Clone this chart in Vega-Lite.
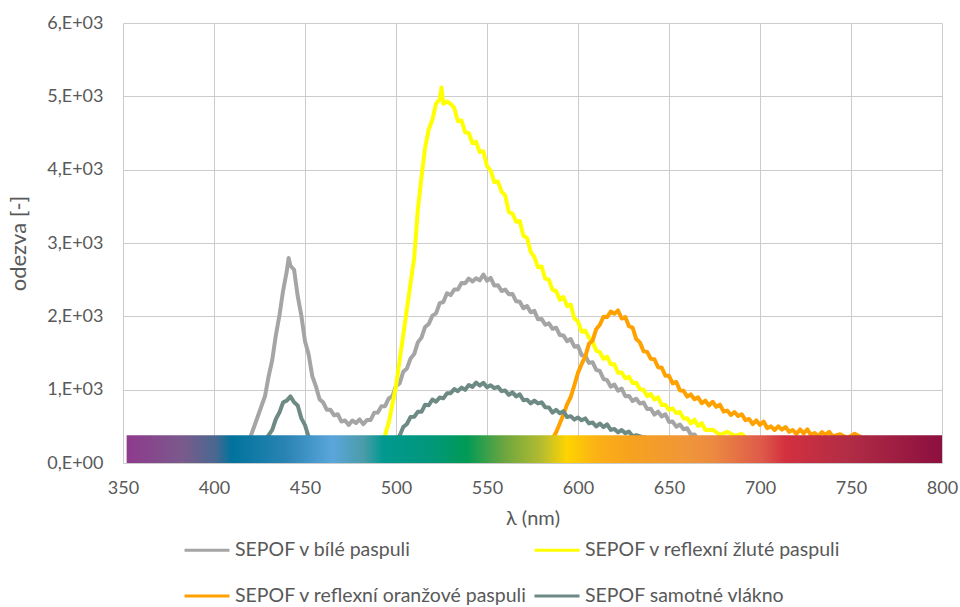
{
  "$schema": "https://vega.github.io/schema/vega-lite/v6.json",
  "width": 819,
  "height": 440,
  "autosize": {"type": "none"},
  "padding": {"left": 123, "top": 23, "right": 18, "bottom": 144},
  "background": "white",
  "config": {
    "view": {"stroke": null},
    "axis": {
      "domain": false, "ticks": false, "grid": true, "gridColor": "#cccccc", "gridWidth": 1,
      "labelFont": "Lato", "labelFontSize": 18, "labelColor": "#595959", "labelFlush": false,
      "titleFont": "Lato", "titleFontSize": 20, "titleFontWeight": "normal", "titleColor": "#595959"
    }
  },
  "datasets": {
    "bila": [
      {"nm":416,"v":185},{"nm":420,"v":355},{"nm":424,"v":630},{"nm":428,"v":910},{"nm":430,"v":1180},{"nm":432,"v":1405},{"nm":434,"v":1745},{"nm":436,"v":2020},{"nm":438,"v":2355},{"nm":440,"v":2615},{"nm":441,"v":2795},{"nm":442,"v":2690},{"nm":444,"v":2635},{"nm":446,"v":2275},{"nm":448,"v":2010},{"nm":450,"v":1660},{"nm":452,"v":1480},{"nm":454,"v":1185},{"nm":456,"v":1045},{"nm":458,"v":870},{"nm":460,"v":825},{"nm":462,"v":725},{"nm":464,"v":725},{"nm":466,"v":650},{"nm":468,"v":665},{"nm":470,"v":565},{"nm":472,"v":580},{"nm":474,"v":520},{"nm":476,"v":580},{"nm":478,"v":545},{"nm":480,"v":595},{"nm":482,"v":530},{"nm":484,"v":585},{"nm":486,"v":585},{"nm":488,"v":685},{"nm":490,"v":690},{"nm":492,"v":775},{"nm":494,"v":775},{"nm":496,"v":880},{"nm":498,"v":910},{"nm":500,"v":1050},{"nm":502,"v":1085},{"nm":504,"v":1245},{"nm":506,"v":1290},{"nm":508,"v":1425},{"nm":510,"v":1485},{"nm":512,"v":1645},{"nm":514,"v":1710},{"nm":516,"v":1855},{"nm":518,"v":1895},{"nm":520,"v":2010},{"nm":522,"v":2040},{"nm":524,"v":2180},{"nm":526,"v":2195},{"nm":528,"v":2315},{"nm":530,"v":2290},{"nm":532,"v":2365},{"nm":534,"v":2365},{"nm":536,"v":2455},{"nm":538,"v":2450},{"nm":540,"v":2515},{"nm":542,"v":2475},{"nm":544,"v":2520},{"nm":546,"v":2490},{"nm":548,"v":2570},{"nm":550,"v":2485},{"nm":552,"v":2525},{"nm":554,"v":2420},{"nm":556,"v":2425},{"nm":558,"v":2345},{"nm":560,"v":2365},{"nm":562,"v":2300},{"nm":564,"v":2305},{"nm":566,"v":2205},{"nm":568,"v":2200},{"nm":570,"v":2110},{"nm":572,"v":2140},{"nm":574,"v":2055},{"nm":576,"v":2075},{"nm":578,"v":1960},{"nm":580,"v":1965},{"nm":582,"v":1885},{"nm":584,"v":1905},{"nm":586,"v":1830},{"nm":588,"v":1845},{"nm":590,"v":1745},{"nm":592,"v":1740},{"nm":594,"v":1660},{"nm":596,"v":1690},{"nm":598,"v":1585},{"nm":600,"v":1595},{"nm":602,"v":1470},{"nm":604,"v":1465},{"nm":606,"v":1365},{"nm":608,"v":1375},{"nm":610,"v":1270},{"nm":612,"v":1255},{"nm":614,"v":1145},{"nm":616,"v":1130},{"nm":618,"v":1040},{"nm":620,"v":1070},{"nm":622,"v":985},{"nm":624,"v":1015},{"nm":626,"v":910},{"nm":628,"v":915},{"nm":630,"v":845},{"nm":632,"v":875},{"nm":634,"v":810},{"nm":636,"v":825},{"nm":638,"v":735},{"nm":640,"v":740},{"nm":642,"v":660},{"nm":644,"v":700},{"nm":646,"v":635},{"nm":648,"v":665},{"nm":650,"v":560},{"nm":652,"v":565},{"nm":654,"v":495},{"nm":656,"v":525},{"nm":658,"v":460},{"nm":660,"v":475},{"nm":662,"v":385},{"nm":664,"v":390},{"nm":666,"v":310},{"nm":670,"v":330}
    ],
    "zluta": [
      {"nm":488,"v":100},{"nm":492,"v":250},{"nm":494,"v":380},{"nm":496,"v":550},{"nm":498,"v":800},{"nm":500,"v":1050},{"nm":502,"v":1400},{"nm":504,"v":1750},{"nm":506,"v":2100},{"nm":508,"v":2450},{"nm":510,"v":2800},{"nm":512,"v":3450},{"nm":514,"v":3900},{"nm":516,"v":4300},{"nm":518,"v":4550},{"nm":520,"v":4680},{"nm":522,"v":4900},{"nm":524,"v":4960},{"nm":525,"v":5120},{"nm":526,"v":4900},{"nm":528,"v":4930},{"nm":530,"v":4900},{"nm":532,"v":4840},{"nm":534,"v":4660},{"nm":536,"v":4670},{"nm":538,"v":4510},{"nm":540,"v":4500},{"nm":542,"v":4360},{"nm":544,"v":4380},{"nm":546,"v":4240},{"nm":548,"v":4250},{"nm":550,"v":4050},{"nm":552,"v":3990},{"nm":554,"v":3830},{"nm":556,"v":3840},{"nm":558,"v":3700},{"nm":560,"v":3650},{"nm":562,"v":3420},{"nm":564,"v":3400},{"nm":566,"v":3290},{"nm":568,"v":3300},{"nm":570,"v":3100},{"nm":572,"v":3070},{"nm":574,"v":2880},{"nm":576,"v":2810},{"nm":578,"v":2670},{"nm":580,"v":2680},{"nm":582,"v":2515},{"nm":584,"v":2500},{"nm":586,"v":2360},{"nm":588,"v":2345},{"nm":590,"v":2225},{"nm":592,"v":2265},{"nm":594,"v":2140},{"nm":596,"v":2160},{"nm":598,"v":1970},{"nm":600,"v":1930},{"nm":602,"v":1790},{"nm":604,"v":1805},{"nm":606,"v":1710},{"nm":608,"v":1655},{"nm":610,"v":1535},{"nm":612,"v":1510},{"nm":614,"v":1420},{"nm":616,"v":1450},{"nm":618,"v":1345},{"nm":620,"v":1345},{"nm":622,"v":1230},{"nm":624,"v":1235},{"nm":626,"v":1155},{"nm":628,"v":1175},{"nm":630,"v":1090},{"nm":632,"v":1095},{"nm":634,"v":1005},{"nm":636,"v":1000},{"nm":638,"v":910},{"nm":640,"v":940},{"nm":642,"v":865},{"nm":644,"v":895},{"nm":646,"v":790},{"nm":648,"v":795},{"nm":650,"v":725},{"nm":652,"v":745},{"nm":654,"v":680},{"nm":656,"v":695},{"nm":658,"v":605},{"nm":660,"v":610},{"nm":662,"v":540},{"nm":664,"v":590},{"nm":666,"v":505},{"nm":668,"v":545},{"nm":670,"v":450},{"nm":674,"v":455},{"nm":678,"v":385},{"nm":682,"v":425},{"nm":686,"v":370},{"nm":690,"v":395},{"nm":694,"v":300}
    ],
    "oranzova": [
      {"nm":580,"v":100},{"nm":584,"v":250},{"nm":586,"v":330},{"nm":588,"v":420},{"nm":590,"v":540},{"nm":592,"v":660},{"nm":594,"v":800},{"nm":596,"v":900},{"nm":598,"v":1060},{"nm":600,"v":1230},{"nm":602,"v":1350},{"nm":604,"v":1450},{"nm":606,"v":1625},{"nm":608,"v":1670},{"nm":610,"v":1825},{"nm":612,"v":1885},{"nm":614,"v":1995},{"nm":616,"v":1990},{"nm":618,"v":2065},{"nm":620,"v":2035},{"nm":622,"v":2080},{"nm":624,"v":1970},{"nm":626,"v":1990},{"nm":628,"v":1865},{"nm":630,"v":1845},{"nm":632,"v":1690},{"nm":634,"v":1645},{"nm":636,"v":1525},{"nm":638,"v":1515},{"nm":640,"v":1420},{"nm":642,"v":1415},{"nm":644,"v":1305},{"nm":646,"v":1300},{"nm":648,"v":1190},{"nm":650,"v":1190},{"nm":652,"v":1085},{"nm":654,"v":1105},{"nm":656,"v":990},{"nm":658,"v":985},{"nm":660,"v":905},{"nm":662,"v":935},{"nm":664,"v":870},{"nm":666,"v":895},{"nm":668,"v":815},{"nm":670,"v":850},{"nm":672,"v":785},{"nm":674,"v":835},{"nm":676,"v":765},{"nm":678,"v":795},{"nm":680,"v":700},{"nm":682,"v":715},{"nm":684,"v":655},{"nm":686,"v":695},{"nm":688,"v":640},{"nm":690,"v":665},{"nm":692,"v":585},{"nm":694,"v":600},{"nm":696,"v":530},{"nm":698,"v":580},{"nm":700,"v":520},{"nm":702,"v":565},{"nm":704,"v":475},{"nm":706,"v":500},{"nm":708,"v":450},{"nm":710,"v":500},{"nm":712,"v":455},{"nm":714,"v":490},{"nm":716,"v":425},{"nm":718,"v":450},{"nm":720,"v":395},{"nm":722,"v":458},{"nm":724,"v":405},{"nm":726,"v":460},{"nm":728,"v":380},{"nm":730,"v":410},{"nm":732,"v":365},{"nm":734,"v":423},{"nm":736,"v":385},{"nm":738,"v":425},{"nm":740,"v":363},{"nm":744,"v":393},{"nm":748,"v":340},{"nm":752,"v":400},{"nm":756,"v":347},{"nm":760,"v":340}
    ],
    "vlakno": [
      {"nm":426,"v":200},{"nm":428,"v":300},{"nm":430,"v":380},{"nm":432,"v":452},{"nm":434,"v":600},{"nm":436,"v":692},{"nm":438,"v":828},{"nm":440,"v":850},{"nm":442,"v":908},{"nm":444,"v":828},{"nm":446,"v":784},{"nm":448,"v":608},{"nm":450,"v":516},{"nm":452,"v":356},{"nm":454,"v":280},{"nm":456,"v":200},{"nm":460,"v":150},{"nm":480,"v":100},{"nm":495,"v":150},{"nm":498,"v":250},{"nm":500,"v":330},{"nm":502,"v":372},{"nm":504,"v":490},{"nm":506,"v":532},{"nm":508,"v":628},{"nm":510,"v":630},{"nm":512,"v":698},{"nm":514,"v":698},{"nm":516,"v":794},{"nm":518,"v":788},{"nm":520,"v":866},{"nm":522,"v":836},{"nm":524,"v":894},{"nm":526,"v":882},{"nm":528,"v":950},{"nm":530,"v":952},{"nm":532,"v":1008},{"nm":534,"v":980},{"nm":536,"v":1028},{"nm":538,"v":998},{"nm":540,"v":1064},{"nm":542,"v":1038},{"nm":544,"v":1096},{"nm":546,"v":1056},{"nm":548,"v":1094},{"nm":550,"v":1032},{"nm":552,"v":1060},{"nm":554,"v":1022},{"nm":556,"v":1038},{"nm":558,"v":980},{"nm":560,"v":988},{"nm":562,"v":928},{"nm":564,"v":964},{"nm":566,"v":908},{"nm":568,"v":936},{"nm":570,"v":856},{"nm":572,"v":864},{"nm":574,"v":812},{"nm":576,"v":850},{"nm":578,"v":812},{"nm":580,"v":828},{"nm":582,"v":760},{"nm":584,"v":758},{"nm":586,"v":688},{"nm":588,"v":724},{"nm":590,"v":678},{"nm":592,"v":706},{"nm":594,"v":626},{"nm":596,"v":639},{"nm":598,"v":592},{"nm":600,"v":620},{"nm":602,"v":582},{"nm":604,"v":608},{"nm":606,"v":540},{"nm":608,"v":553},{"nm":610,"v":498},{"nm":612,"v":539},{"nm":614,"v":488},{"nm":616,"v":526},{"nm":618,"v":451},{"nm":620,"v":464},{"nm":622,"v":417},{"nm":624,"v":450},{"nm":626,"v":407},{"nm":628,"v":428},{"nm":630,"v":365},{"nm":632,"v":378},{"nm":636,"v":350},{"nm":640,"v":330}
    ],
    "spektrum": [
      {"nm":352,"nm2":800,"v":0,"v2":380}
    ]
  },
  "encoding": {
    "x": {
      "field": "nm", "type": "quantitative", "title": "λ (nm)",
      "scale": {"domain": [350, 800], "nice": false, "zero": false},
      "axis": {"values": [350,400,450,500,550,600,650,700,750,800], "labelPadding": 16, "titlePadding": 11}
    },
    "y": {
      "field": "v", "type": "quantitative", "title": "odezva [-]",
      "scale": {"domain": [0, 6000], "nice": false},
      "axis": {
        "values": [0,1000,2000,3000,4000,5000,6000],
        "labelExpr": "datum.value == 0 ? '0,E+00' : format(datum.value/1000, 'd') + ',E+03'",
        "labelPadding": 20, "titlePadding": 16, "titleFontSize": 22
      }
    }
  },
  "layer": [
    {
      "data": {"name": "bila"},
      "mark": {"type": "line", "strokeWidth": 4, "strokeJoin": "round"},
      "encoding": {
        "color": {
          "datum": "SEPOF v bílé paspuli", "type": "nominal",
          "scale": {
            "domain": ["SEPOF v bílé paspuli", "SEPOF v reflexní oranžové paspuli", "SEPOF v reflexní žluté paspuli", "SEPOF samotné vlákno"],
            "range": ["#a5a5a5", "#ffa200", "#ffff00", "#6e8a84"]
          },
          "legend": {
            "title": null, "orient": "none", "legendX": 60, "legendY": 503, "columns": 2,
            "symbolType": "stroke", "symbolSize": 2025, "symbolStrokeWidth": 3,
            "labelFont": "Lato", "labelFontSize": 19.5, "labelColor": "#595959", "labelLimit": 400,
            "labelOffset": 4, "rowPadding": 12, "columnPadding": 0, "padding": 0
          }
        }
      }
    },
    {
      "data": {"name": "zluta"},
      "mark": {"type": "line", "strokeWidth": 4, "strokeJoin": "round"},
      "encoding": {"color": {"datum": "SEPOF v reflexní žluté paspuli", "type": "nominal"}}
    },
    {
      "data": {"name": "oranzova"},
      "mark": {"type": "line", "strokeWidth": 4, "strokeJoin": "round"},
      "encoding": {"color": {"datum": "SEPOF v reflexní oranžové paspuli", "type": "nominal"}}
    },
    {
      "data": {"name": "vlakno"},
      "mark": {"type": "line", "strokeWidth": 4, "strokeJoin": "round"},
      "encoding": {"color": {"datum": "SEPOF samotné vlákno", "type": "nominal"}}
    },
    {
      "data": {"name": "spektrum"},
      "mark": {
        "type": "rect",
        "fill": {
          "gradient": "linear", "x1": 0, "y1": 0, "x2": 1, "y2": 0,
          "stops": [
            {"offset": 0, "color": "#8f3a8d"},
            {"offset": 0.069, "color": "#7a5a8c"},
            {"offset": 0.109, "color": "#4a6890"},
            {"offset": 0.129, "color": "#00739c"},
            {"offset": 0.196, "color": "#2a84b4"},
            {"offset": 0.252, "color": "#5aa6dc"},
            {"offset": 0.29, "color": "#4c9caa"},
            {"offset": 0.315, "color": "#00998f"},
            {"offset": 0.375, "color": "#00977a"},
            {"offset": 0.417, "color": "#009a55"},
            {"offset": 0.462, "color": "#6aa540"},
            {"offset": 0.509, "color": "#b5bc30"},
            {"offset": 0.54, "color": "#ffd400"},
            {"offset": 0.576, "color": "#fbb116"},
            {"offset": 0.616, "color": "#f7a21e"},
            {"offset": 0.6875, "color": "#f0963a"},
            {"offset": 0.719, "color": "#ec8a40"},
            {"offset": 0.779, "color": "#de5a4a"},
            {"offset": 0.808, "color": "#d3303f"},
            {"offset": 0.882, "color": "#b22d45"},
            {"offset": 1, "color": "#8c0f3e"}
          ]
        }
      },
      "encoding": {
        "x2": {"field": "nm2"},
        "y2": {"field": "v2"}
      }
    }
  ]
}
